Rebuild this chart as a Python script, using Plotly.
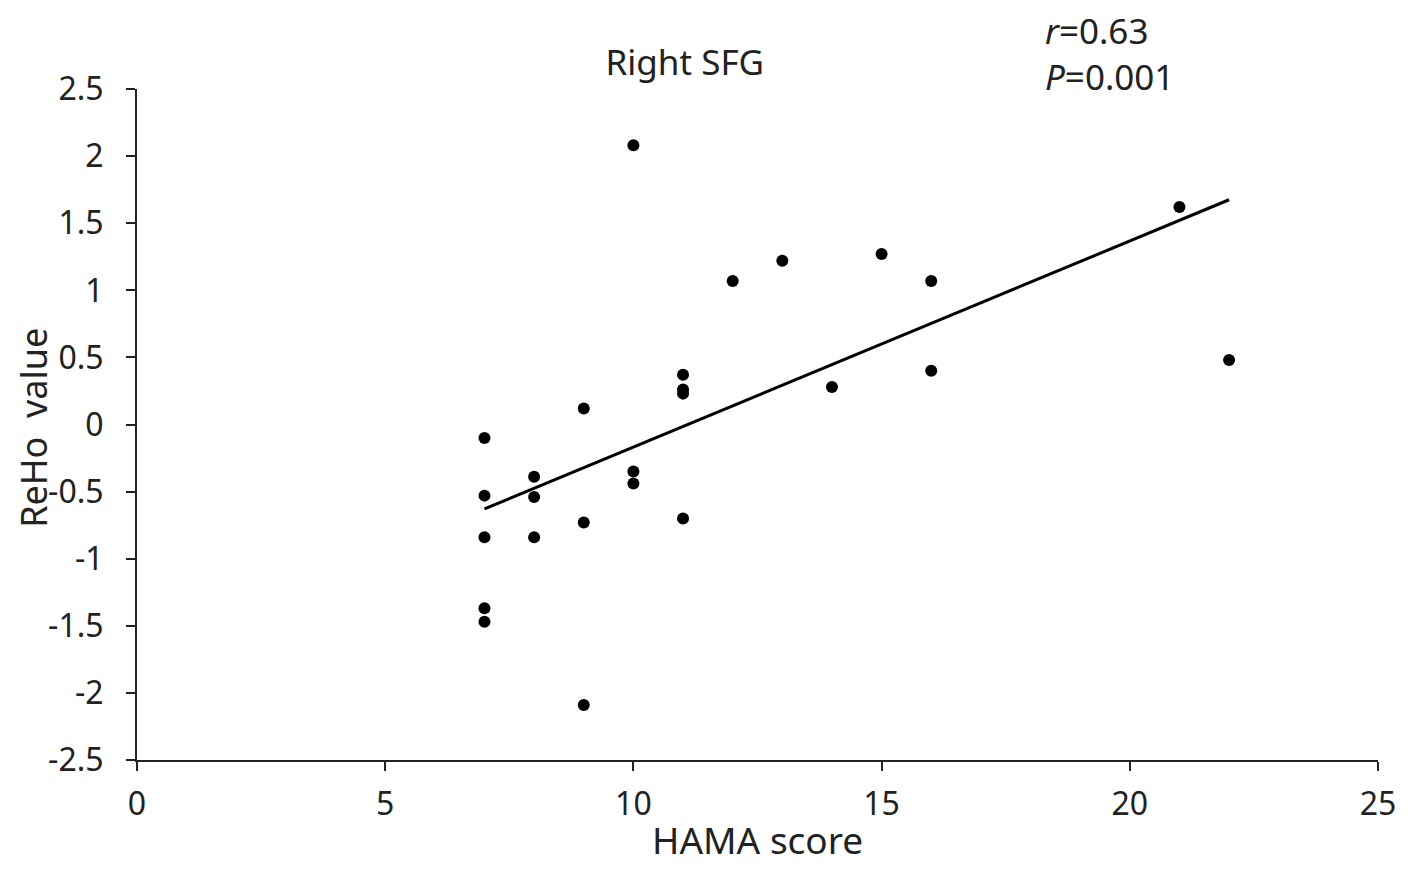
import numpy as np
import plotly.graph_objects as go

# HAMA score vs ReHo value (Right SFG)
hama = [7, 7, 7, 7, 7, 8, 8, 8, 9, 9, 9, 10, 10, 10, 11, 11, 11, 11,
        12, 13, 14, 15, 16, 16, 21, 22]
reho = [-0.10, -0.53, -0.84, -1.37, -1.47, -0.39, -0.54, -0.84, 0.12, -0.73, -2.09,
        2.08, -0.35, -0.44, 0.37, 0.26, 0.23, -0.70,
        1.07, 1.22, 0.28, 1.27, 1.07, 0.40, 1.62, 0.48]

x_ticks = [0, 5, 10, 15, 20, 25]
y_ticks = [2.5, 2, 1.5, 1, 0.5, 0, -0.5, -1, -1.5, -2, -2.5]

slope, intercept = np.polyfit(hama, reho, 1)
fit_x = [min(hama), max(hama)]
fit_y = [slope * v + intercept for v in fit_x]

font = "Noto Sans"
ink = "#222"

fig = go.Figure()
fig.add_trace(go.Scatter(x=hama, y=reho, mode="markers",
                         marker=dict(color="black", size=12), showlegend=False))
fig.add_trace(go.Scatter(x=fit_x, y=fit_y, mode="lines",
                         line=dict(color="black", width=3), showlegend=False))

# page body has an 8px margin, so the figure is drawn a little smaller
fig.update_layout(
    width=1410, height=865,
    margin=dict(l=129, r=40, t=81, b=113),
    plot_bgcolor="white", paper_bgcolor="white",
    font=dict(family=font, size=32, color=ink),
    title=dict(text="Right SFG", x=0.48, xanchor="center", y=0.937, yanchor="middle",
               font=dict(size=35, family=font, color=ink)),
)
fig.update_xaxes(range=[0, 25], tickvals=x_ticks, showgrid=False, zeroline=False,
                 showline=True, linecolor=ink, linewidth=2,
                 ticks="outside", ticklen=9, tickwidth=2, tickcolor=ink,
                 ticklabelstandoff=6)
fig.update_yaxes(range=[-2.5, 2.5], tickvals=y_ticks, ticktext=[str(t) for t in y_ticks],
                 showgrid=False, zeroline=False,
                 showline=True, linecolor=ink, linewidth=2,
                 ticks="outside", ticklen=9, tickwidth=2, tickcolor=ink,
                 ticklabelstandoff=16)

# axis titles as annotations so they sit where the original puts them
fig.add_annotation(text="HAMA score", xref="paper", yref="paper",
                   x=0.5, y=-0.118, xanchor="center", yanchor="middle",
                   showarrow=False, font=dict(size=37, family=font, color=ink))
fig.add_annotation(text="ReHo  value", textangle=-90, xref="paper", yref="paper",
                   x=-0.083, y=0.495, xanchor="center", yanchor="middle",
                   showarrow=False, font=dict(size=36, family=font, color=ink))
fig.add_annotation(text="<i>r</i>=0.63<br><i>P</i>=0.001", xref="paper", yref="paper",
                   x=0.73, y=1.125, xanchor="left", yanchor="top", align="left",
                   showarrow=False, font=dict(size=35, family=font, color=ink))

fig.write_html("out.html")
